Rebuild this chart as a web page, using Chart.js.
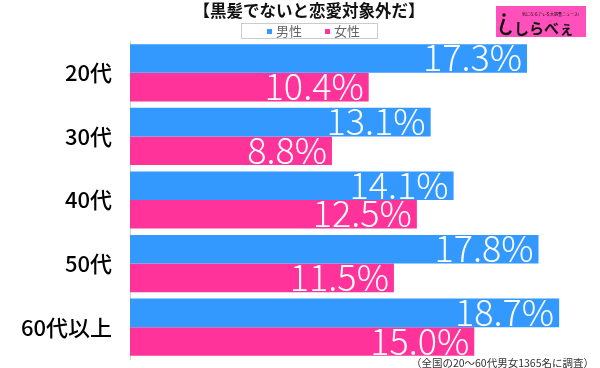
<!DOCTYPE html>
<html>
<head>
<meta charset="utf-8">
<script src="https://cdn.jsdelivr.net/npm/chart.js@4"></script>
<style>
  html, body { margin: 0; padding: 0; background: #fff; }
  canvas { display: block; }
</style>
</head>
<body>
<canvas id="myChart" width="600" height="368"></canvas>
<script>
const categories = ['20代', '30代', '40代', '50代', '60代以上'];
const maleValues = [17.3, 13.1, 14.1, 17.8, 18.7];
const femaleValues = [10.4, 8.8, 12.5, 11.5, 15.0];
const seriesNames = ['男性', '女性'];
const titleText = '【黒髪でないと恋愛対象外だ】';
const footerText = '（全国の20〜60代男女1365名に調査）';

const BLUE = '#3399ff';
const PINK = '#ff3399';
const FONT = '"Noto Sans CJK JP", "Noto Sans", sans-serif';

// title, legend box, logo and footer
const decorPlugin = {
    id: 'decor',
    afterDraw(chart) {
        const ctx = chart.ctx;
        ctx.save();

        ctx.fillStyle = '#111';
        ctx.font = 'bold 16.5px ' + FONT;
        ctx.textAlign = 'center';
        ctx.textBaseline = 'middle';
        ctx.fillText(titleText, 309, 11);

        ctx.strokeStyle = '#cccccc';
        ctx.lineWidth = 1;
        ctx.strokeRect(241.5, 23.5, 136, 15);
        const colors = [BLUE, PINK];
        const xs = [267, 325];
        ctx.font = '13px ' + FONT;
        ctx.textAlign = 'left';
        for (let i = 0; i < seriesNames.length; i++) {
            ctx.fillStyle = colors[i];
            ctx.fillRect(xs[i], 29, 5, 5);
            ctx.fillStyle = '#666';
            ctx.fillText(seriesNames[i], xs[i] + 9, 31.5);
        }

        // logo
        ctx.fillStyle = '#ff50bb';
        ctx.fillRect(496, 6, 90, 31);
        ctx.fillStyle = '#111';
        ctx.beginPath();
        ctx.arc(504, 15, 1.8, 0, Math.PI * 2);
        ctx.fill();
        ctx.lineWidth = 2.5;
        ctx.strokeStyle = '#111';
        ctx.beginPath();
        ctx.moveTo(504, 19);
        ctx.lineTo(502, 25);
        ctx.arc(506, 29, 5, Math.PI, Math.PI * 2.1, true);
        ctx.stroke();
        ctx.font = 'bold 15px ' + FONT;
        ctx.fillText('しらべぇ', 514, 28);
        ctx.font = '4px ' + FONT;
        ctx.fillText('気になるアレを大調査ニュース!', 522, 14);

        ctx.fillStyle = '#333';
        ctx.font = '10.5px ' + FONT;
        ctx.textAlign = 'right';
        ctx.fillText(footerText, 594, 363);
        ctx.restore();
    }
};

// white value labels at the end of each bar
const valueLabels = {
    id: 'valueLabels',
    afterDatasetsDraw(chart) {
        const ctx = chart.ctx;
        ctx.save();
        ctx.fillStyle = '#fff';
        ctx.font = '300 36px ' + FONT;
        ctx.textAlign = 'right';
        ctx.textBaseline = 'alphabetic';
        chart.data.datasets.forEach((ds, di) => {
            chart.getDatasetMeta(di).data.forEach((bar, i) => {
                ctx.fillText(ds.data[i].toFixed(1) + '%', bar.x - 5, bar.y + 13);
            });
        });
        ctx.restore();
    }
};

const data = {
    labels: categories,
    datasets: [{
        label: seriesNames[0],
        data: maleValues,
        backgroundColor: BLUE,
        borderWidth: 0
    }, {
        label: seriesNames[1],
        data: femaleValues,
        backgroundColor: PINK,
        borderWidth: 0
    }]
};

const config = {
    type: 'bar',
    data: data,
    options: {
        indexAxis: 'y',
        responsive: false,
        animation: false,
        layout: { padding: { top: 41, bottom: 9, right: 11, left: 0 } },
        datasets: { bar: { categoryPercentage: 0.9, barPercentage: 1.0 } },
        plugins: {
            legend: { display: false },
            title: { display: false },
            tooltip: { enabled: false }
        },
        scales: {
            x: {
                display: false,
                min: 0,
                max: 20
            },
            y: {
                afterFit: (s) => {
                    s.width = 130;
                    s.paddingTop = 0;
                    s.paddingBottom = 0;
                },
                grid: { drawOnChartArea: false, drawTicks: false },
                border: { display: true, color: '#d0d0d0', width: 1 },
                ticks: {
                    padding: 18,
                    color: '#000',
                    font: { size: 22, weight: '500', family: FONT }
                }
            }
        }
    },
    plugins: [valueLabels, decorPlugin]
};

const myChart = new Chart(document.getElementById('myChart'), config);
</script>
</body>
</html>
